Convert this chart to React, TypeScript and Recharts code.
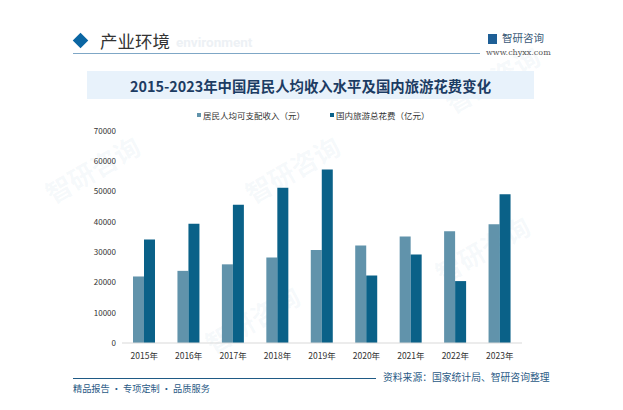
import React from 'react';
import { BarChart, Bar, XAxis, YAxis } from 'recharts';

const years = ['2015年', '2016年', '2017年', '2018年', '2019年', '2020年', '2021年', '2022年', '2023年'];
const income = [21966, 23821, 25974, 28228, 30733, 32189, 35128, 36883, 39218];
const tourism = [34195, 39390, 45661, 51278, 57251, 22286, 29191, 20444, 49133];
const yTicks = [0, 10000, 20000, 30000, 40000, 50000, 60000, 70000];

const LIGHT = '#6193ab';
const DARK = '#0a6188';
const FONT = '"Noto Sans CJK SC", "Noto Sans", sans-serif';

const data = years.map((y, i) => ({ year: y, income: income[i], tourism: tourism[i] }));

const Watermark = ({ x, y }: { x: number; y: number }) => (
  <div style={{ position: 'absolute', left: x, top: y, transform: 'rotate(-30deg)', color: 'rgba(120,160,200,0.07)', fontSize: 26, fontWeight: 700, fontFamily: FONT, whiteSpace: 'nowrap' }}>
    智研咨询
  </div>
);

export default function App() {
  return (
    <div style={{ position: 'absolute', left: 0, top: 0, width: 623, height: 410, background: '#fff', overflow: 'hidden', fontFamily: FONT }}>
      <Watermark x={40} y={150} />
      <Watermark x={200} y={300} />
      <Watermark x={240} y={150} />
      <Watermark x={430} y={230} />
      <Watermark x={440} y={60} />

      {/* header */}
      <div style={{ position: 'absolute', left: 75, top: 35, width: 11, height: 11, background: '#0b66a3', transform: 'rotate(45deg)' }} />
      <div style={{ position: 'absolute', left: 176, top: 34, fontSize: 13.5, fontWeight: 700, color: '#edf1f5', fontFamily: 'Roboto, sans-serif', lineHeight: '16px' }}>environment</div>
      <div style={{ position: 'absolute', left: 100, top: 29, fontSize: 17.5, color: '#333', lineHeight: '24px' }}>产业环境</div>
      <div style={{ position: 'absolute', left: 73, top: 53, width: 407, height: 1, background: '#7fa7c6' }} />
      <div style={{ position: 'absolute', left: 488, top: 34, width: 9, height: 10, background: '#1e5f96' }} />
      <div style={{ position: 'absolute', left: 502, top: 31, fontSize: 10.5, color: '#3b5a78', lineHeight: '14px' }}>智研咨询</div>
      <div style={{ position: 'absolute', left: 486, top: 48, fontSize: 8, color: '#555', fontFamily: '"DejaVu Serif", serif', lineHeight: '10px' }}>www.chyxx.com</div>

      {/* title */}
      <div style={{ position: 'absolute', left: 87, top: 71, width: 447, height: 28, background: '#e8f2fb', display: 'flex', alignItems: 'center', justifyContent: 'center', fontSize: 14.4, fontWeight: 700, color: '#1c3c63', fontFamily: '"Noto Sans CJK SC", serif' }}>
        2015-2023年中国居民人均收入水平及国内旅游花费变化
      </div>

      {/* legend */}
      <div style={{ position: 'absolute', left: 197, top: 109, display: 'flex', fontSize: 8.5, color: '#333', lineHeight: '12px' }}>
        <div style={{ display: 'flex', alignItems: 'center', marginRight: 25 }}>
          <span style={{ width: 4, height: 4, background: LIGHT, marginRight: 2 }} />居民人均可支配收入（元）
        </div>
        <div style={{ display: 'flex', alignItems: 'center' }}>
          <span style={{ width: 4, height: 4, background: DARK, marginRight: 2 }} />国内旅游总花费（亿元）
        </div>
      </div>

      <div style={{ position: 'absolute', left: 0, top: 0 }}>
        <BarChart width={623} height={410} data={data} margin={{ top: 131, right: 101, left: 62, bottom: 37 }} barGap={0} barCategoryGap="25%">
          <XAxis dataKey="year" tickLine={false} axisLine={{ stroke: '#d9d9d9' }} tick={{ fontSize: 8.5, fill: '#333', fontFamily: FONT }} interval={0} tickMargin={4} />
          <YAxis width={60} domain={[0, 70000]} ticks={yTicks} tickLine={false} tickSize={0} axisLine={false} tick={{ fontSize: 8, fill: '#333', fontFamily: FONT }} tickMargin={6} interval={0} />
          <Bar dataKey="income" fill={LIGHT} barSize={11} isAnimationActive={false} />
          <Bar dataKey="tourism" fill={DARK} barSize={11} isAnimationActive={false} />
        </BarChart>
      </div>

      {/* footer */}
      <div style={{ position: 'absolute', left: 73, top: 378, width: 303, height: 1, background: '#1f5a85' }} />
      <div style={{ position: 'absolute', left: 383, top: 371, fontSize: 9.8, color: '#2a5a85', lineHeight: '13px' }}>资料来源：国家统计局、智研咨询整理</div>
      <div style={{ position: 'absolute', left: 73, top: 382, fontSize: 9.2, color: '#2a5a85', lineHeight: '13px' }}>精品报告 · 专项定制 · 品质服务</div>
    </div>
  );
}
